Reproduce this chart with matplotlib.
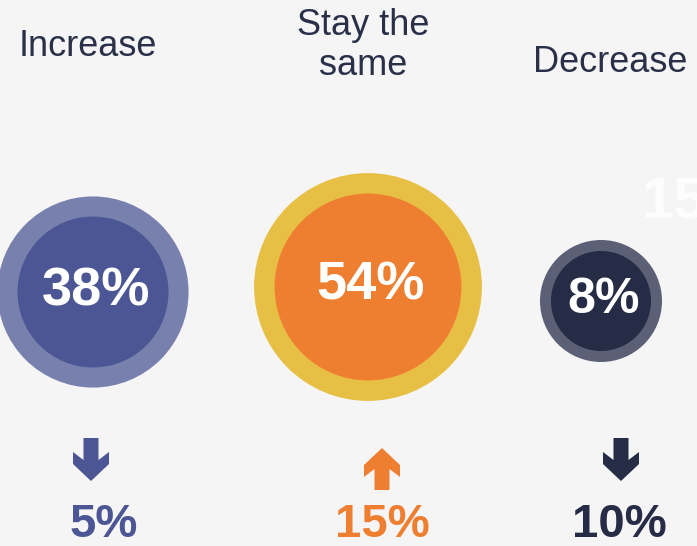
import matplotlib
matplotlib.use("Agg")
import matplotlib.pyplot as plt
from matplotlib.patches import Circle, Polygon
import numpy as np

# data
categories = ["Increase", "Stay the\nsame", "Decrease"]
shares = [38, 54, 8]            # % in the big circles
changes = [5, 15, 10]           # change below each circle
directions = ["down", "up", "down"]

# styling
inner_colors = ["#4c5694", "#ee7f31", "#272c46"]
ring_colors = ["#7880ae", "#e8bf45", "#5c6076"]
label_color = "#2b3049"
bg = "#f5f5f6"

W, H = 697, 546
fig = plt.figure(figsize=(W / 100, H / 100), dpi=100, facecolor=bg)
ax = fig.add_axes([0, 0, 1, 1])
ax.set_xlim(0, W)
ax.set_ylim(H, 0)
ax.set_aspect("equal")
ax.axis("off")
ax.set_facecolor(bg)

# layout (pixels)
cx = [93, 368, 601]
cy = [292, 287, 301]
label_x = [88, 363.5, 610.5]
label_base = [56, 35, 72]
arrow_x = [91, 382, 621]
change_x = [104, 382, 619]

font = "Liberation Sans"

for i, cat in enumerate(categories):
    # circles: area-ish scaling, with a minimum size for small shares
    r_out = max(15.5 * np.sqrt(shares[i]), 61)
    r_in = r_out * (0.79 if i == 0 else 0.82)
    ax.add_patch(Circle((cx[i], cy[i]), r_out, color=ring_colors[i], lw=0))
    ax.add_patch(Circle((cx[i], cy[i]), r_in, color=inner_colors[i], lw=0))
    fs = 39 if shares[i] > 20 else 36
    ax.text(cx[i] + 3, cy[i] - 1, f"{shares[i]}%", color="white", fontsize=fs,
            fontweight="bold", family=font, ha="center", va="center")

    # header label, one text per line
    for j, line in enumerate(cat.split("\n")):
        ax.text(label_x[i], label_base[i] + 40 * j, line,
                color=label_color, fontsize=26, family=font,
                ha="center", va="baseline")

    # arrow (chevron style head), s = +1 points down, -1 points up
    x0 = arrow_x[i]
    sw, hw = 7.5, 18
    if directions[i] == "down":
        s, top, tip = 1, 438, 481
    else:
        s, top, tip = -1, 490, 448
    pts = [(x0 - sw, top), (x0 + sw, top), (x0 + sw, tip - s * 21),
           (x0 + hw, tip - s * 29), (x0 + hw, tip - s * 17), (x0, tip),
           (x0 - hw, tip - s * 17), (x0 - hw, tip - s * 29), (x0 - sw, tip - s * 21)]
    ax.add_patch(Polygon(pts, closed=True, color=inner_colors[i], lw=0))

    ax.text(change_x[i], 537, f"{changes[i]}%", color=inner_colors[i],
            fontsize=34, fontweight="bold", family=font,
            ha="center", va="baseline")

# faint white number peeking in at the right edge (cut off in the original too)
ax.text(641, 217, "15", color="white", fontsize=42, fontweight="bold",
        family=font, ha="left", va="baseline", alpha=0.85)

plt.savefig("out.png", dpi=100, facecolor=bg)
plt.close()
